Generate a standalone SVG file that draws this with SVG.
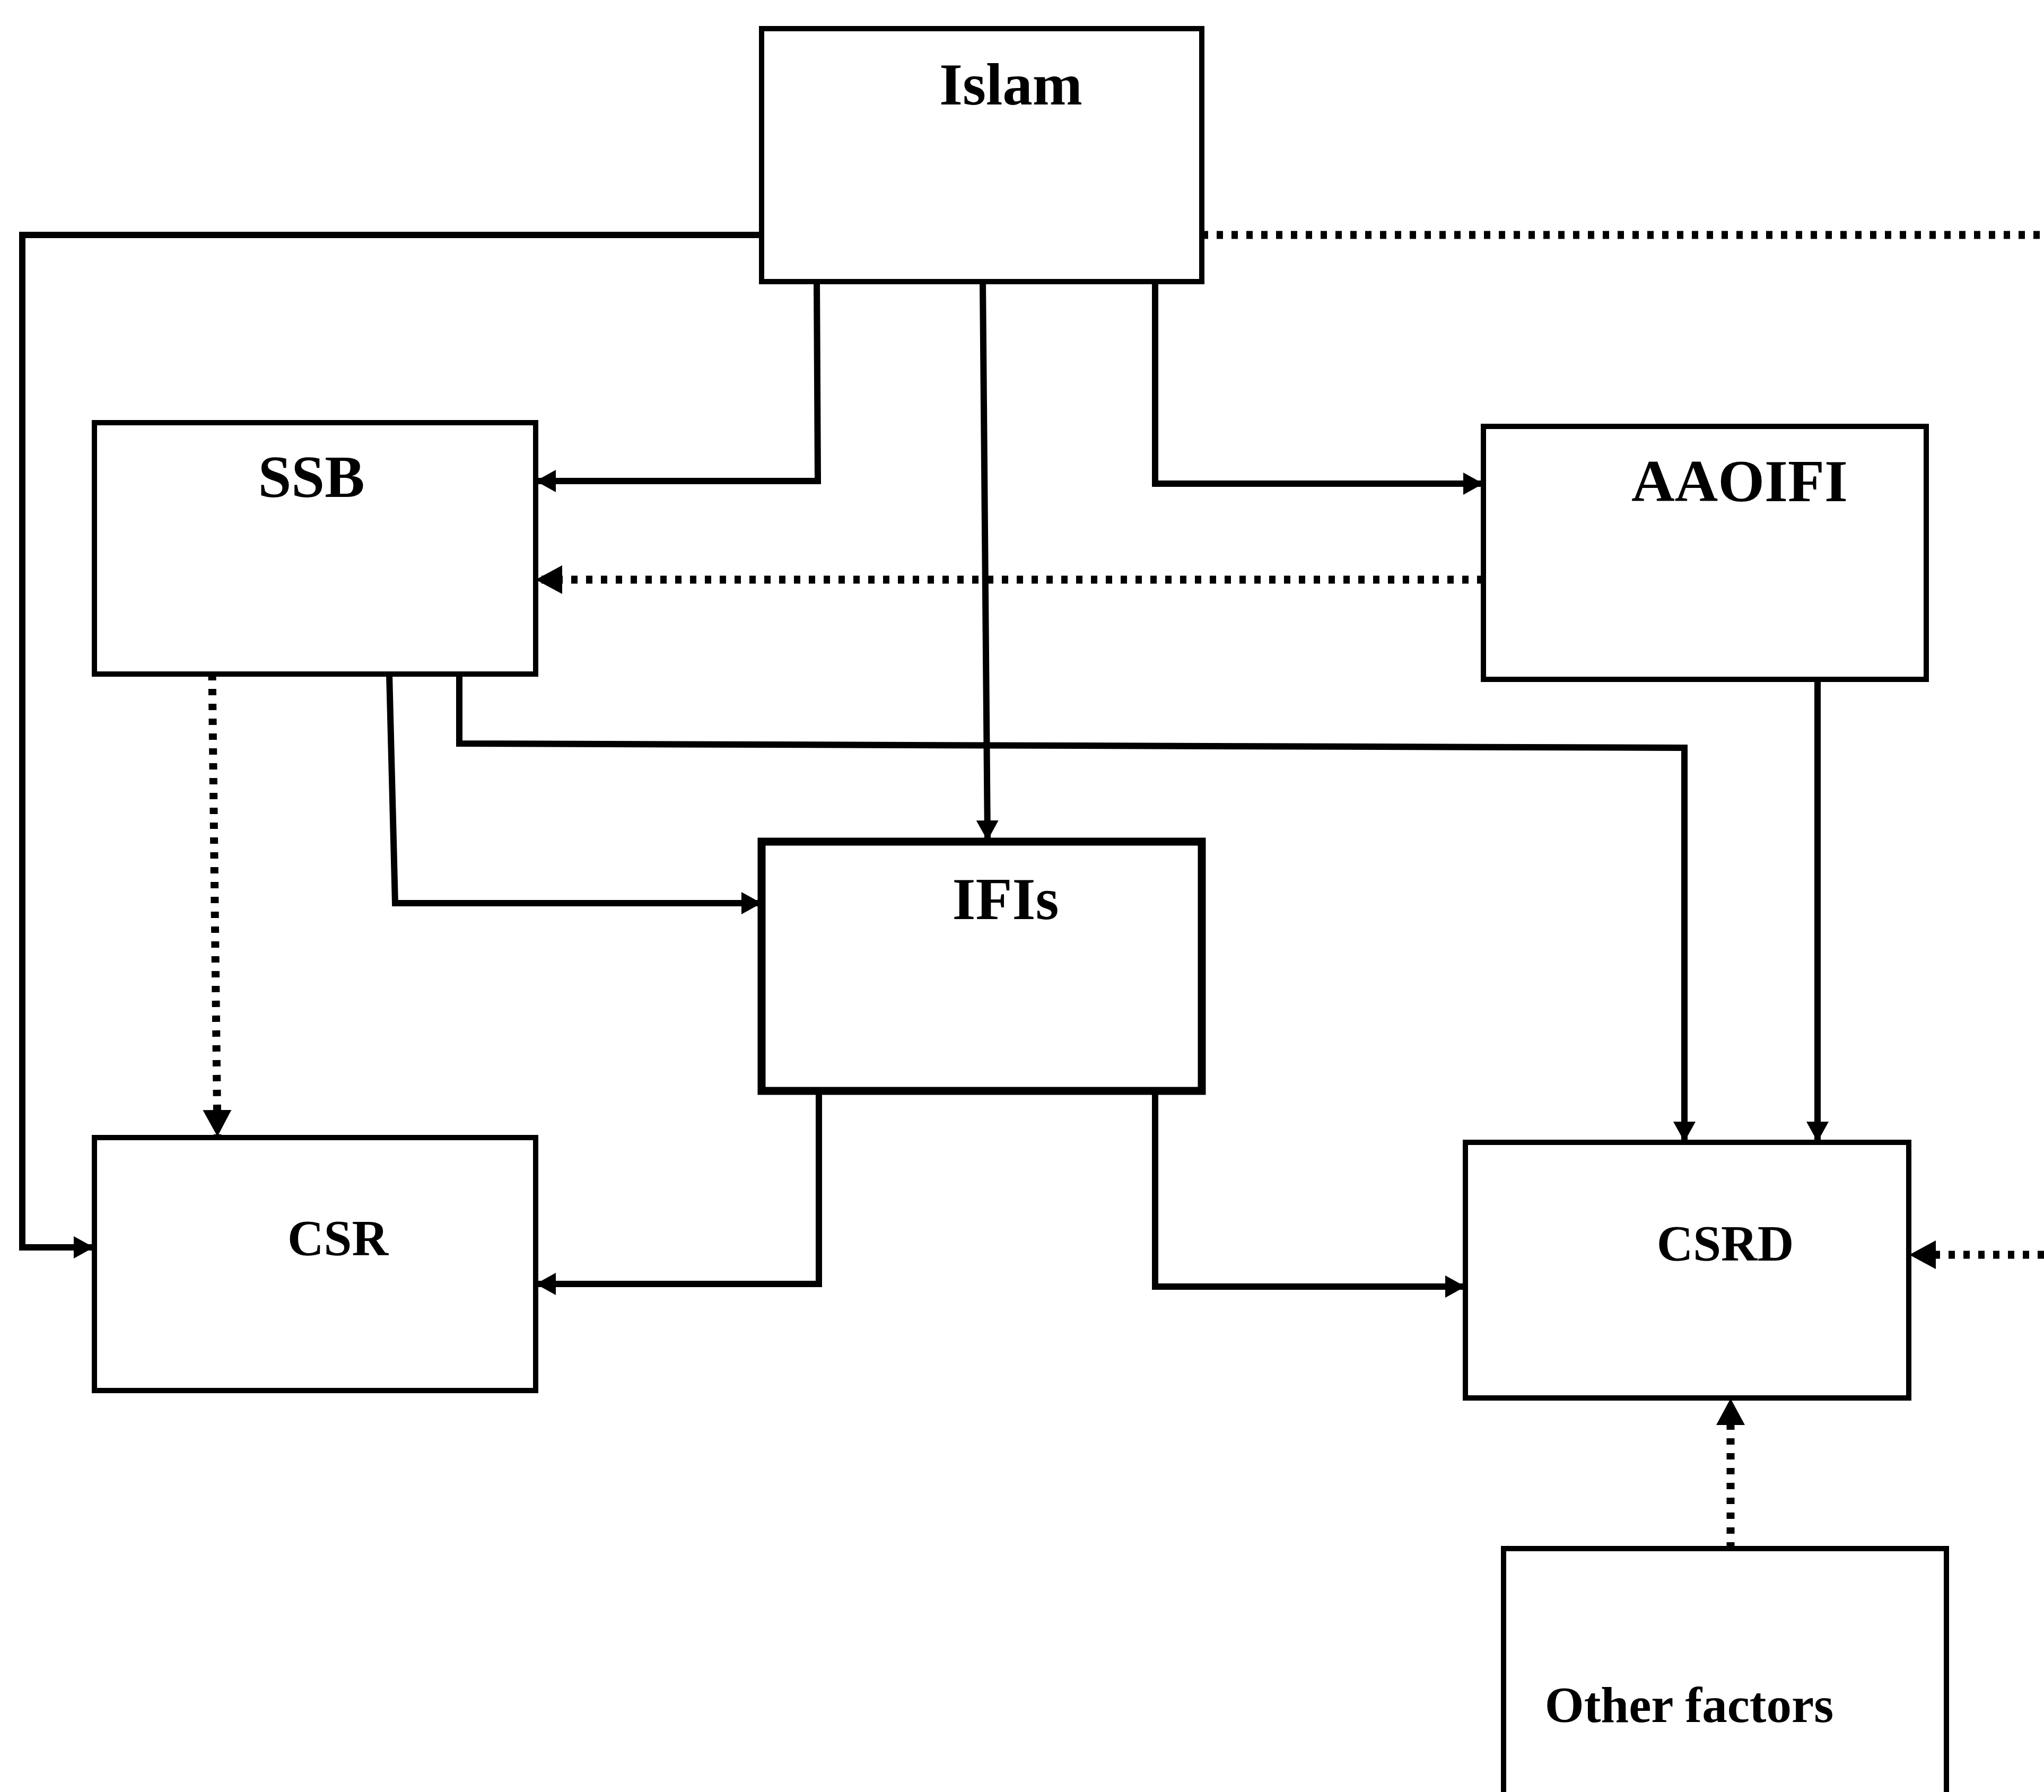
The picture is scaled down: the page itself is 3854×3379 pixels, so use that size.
<svg xmlns="http://www.w3.org/2000/svg" width="3854" height="3379" viewBox="0 0 3854 3379">
<style>
.box{fill:#fff;stroke:#000;stroke-width:10}
.thick{stroke-width:15}
.lbl{font-family:"Liberation Serif","Times New Roman",serif;font-weight:bold;fill:#000;text-anchor:middle}
.big{font-size:113px}
.small{font-size:95px}
.c{fill:none;stroke:#000;stroke-width:12;stroke-linejoin:miter}
.d{fill:none;stroke:#000;stroke-width:15;stroke-dasharray:12 16}
</style>
<defs>
<marker id="ah" markerUnits="userSpaceOnUse" markerWidth="40" markerHeight="44" refX="38" refY="21" orient="auto">
<path d="M0,0 L38,21 L0,42 Z" fill="#000"/>
</marker>
<marker id="ahd" markerUnits="userSpaceOnUse" markerWidth="52" markerHeight="56" refX="50" refY="27" orient="auto">
<path d="M0,0 L50,27 L0,54 Z" fill="#000"/>
</marker>
</defs>
<rect width="3854" height="3379" fill="#fff"/>
<g id="connectors">
<path class="c" d="M1436,443 H42 V2352 H177" marker-end="url(#ah)"/>
<path class="d" d="M2266,443 H3854"/>
<path class="c" d="M1540,531 L1542,907 H1010" marker-end="url(#ah)"/>
<path class="c" d="M1853,531 L1862,1585" marker-end="url(#ah)"/>
<path class="c" d="M2178,531 V912 H2797" marker-end="url(#ah)"/>
<path class="d" d="M2797,1093 H1010" marker-end="url(#ahd)"/>
<path class="d" d="M400,1271 L410,2143" marker-end="url(#ahd)"/>
<path class="c" d="M734,1271 L745,1703 H1436" marker-end="url(#ah)"/>
<path class="c" d="M866,1271 V1402 L3176,1410 V2153" marker-end="url(#ah)"/>
<path class="c" d="M3427,1281 V2153" marker-end="url(#ah)"/>
<path class="c" d="M1544,2060 V2421 H1010" marker-end="url(#ah)"/>
<path class="c" d="M2178,2060 V2426 H2763" marker-end="url(#ah)"/>
<path class="d" d="M3854,2366 H3600" marker-end="url(#ahd)"/>
<path class="d" d="M3263,2920 V2637" marker-end="url(#ahd)"/>
</g>
<g id="islam">
<rect class="box" x="1436" y="54" width="830" height="477"/>
<text class="lbl big" x="1906" y="197">Islam</text>
</g>
<g id="ssb">
<rect class="box" x="178" y="797" width="832" height="474"/>
<text class="lbl big" x="587" y="937">SSB</text>
</g>
<g id="aaoifi">
<rect class="box" x="2797" y="804" width="835" height="477"/>
<text class="lbl big" x="3280" y="945">AAOIFI</text>
</g>
<g id="ifis">
<rect class="box thick" x="1436" y="1587" width="830" height="470"/>
<text class="lbl big" x="1896" y="1733">IFIs</text>
</g>
<g id="csr">
<rect class="box" x="178" y="2145" width="832" height="477"/>
<text class="lbl small" x="637" y="2367">CSR</text>
</g>
<g id="csrd">
<rect class="box" x="2763" y="2154" width="836" height="482"/>
<text class="lbl small" x="3253" y="2377">CSRD</text>
</g>
<g id="other">
<rect class="box" x="2835" y="2920" width="835" height="520"/>
<text class="lbl small" x="3185" y="3247">Other factors</text>
</g>
</svg>
